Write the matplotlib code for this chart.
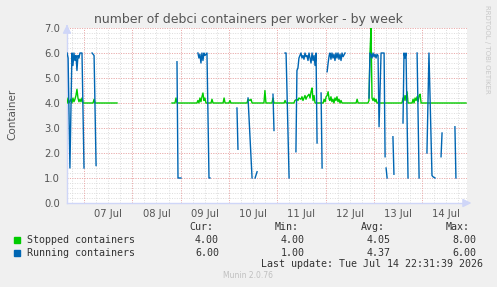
"""Munin-style week graph: debci containers per worker."""
import numpy as np
import matplotlib
matplotlib.use("Agg")
import matplotlib.pyplot as plt

# time axis: hours since 07 Jul 00:00
X_START, X_END = -8.45, 190.3
DAY_LABELS = ["07 Jul", "08 Jul", "09 Jul", "10 Jul", "11 Jul", "12 Jul", "13 Jul", "14 Jul"]

# Stopped containers (green); None = no data
stopped_t = [-8.4, -7.9, -7.5, -6.5, -6.0, -5.5, -5.0, -4.5, -4.0, -3.5, -3.0, -2.5, -2.0,
             -1.5, -1.0, -0.5, 4.5, 5.0, 5.5, 16.4, 16.9,
             43.7, 45.2, 45.7, 46.2, 56.1, 56.6, 57.1, 57.6, 58.1, 58.6, 59.1, 59.6, 60.1,
             60.6, 63.1, 63.6, 64.1, 69.1, 69.6, 70.1, 72.0, 72.5, 73.0, 81.0, 81.5, 82.5,
             83.0, 83.5, 89.4, 89.9, 90.4, 93.4, 93.9, 94.4, 99.4, 99.9, 100.4, 104.3,
             104.8, 105.8, 106.3, 106.8, 107.8, 108.3, 108.8, 109.8, 110.3, 110.8, 111.8,
             112.3, 112.8, 113.3, 113.8, 114.3, 114.8, 118.8, 119.3, 119.8, 120.3, 120.8,
             121.3, 121.8, 122.2, 122.7, 123.2, 123.7, 124.2, 124.7, 125.2, 125.7, 126.2,
             126.7, 127.2, 127.7, 128.2, 135.2, 135.7, 136.2, 141.1, 141.6, 142.1, 142.6,
             143.1, 143.6, 144.1, 144.6, 145.1, 145.6, 146.1, 158.0, 158.5, 159.0, 159.5,
             160.0, 160.5, 161.0, 163.0, 163.5, 164.0, 164.5, 165.0, 165.5, 166.0, 166.5,
             167.0, 167.5, 189.8]
stopped_v = [4.0, 4.2, 4.0, 4.15, 4.0, 4.2, 4.05, 4.15, 4.3, 4.55, 4.2, 4.05, 4.15,
             4.05, 4.2, 4.0, 4.0, 4.15, 4.0, 4.0, None,
             4.0, 4.0, 4.2, 4.0, 4.0, 4.1, 4.0, 4.2, 4.05, 4.25, 4.4, 4.1, 4.2,
             4.0, 4.0, 4.15, 4.0, 4.0, 4.2, 4.0, 4.0, 4.1, 4.0, 4.0, 4.15, 4.1,
             4.15, 4.0, 4.0, 4.5, 4.0, 4.0, 4.2, 4.0, 4.0, 4.1, 4.0, 4.0,
             4.1, 4.15, 4.1, 4.2, 4.15, 4.25, 4.1, 4.3, 4.15, 4.25, 4.35,
             4.2, 4.45, 4.6, 4.1, 4.3, 4.0, 4.0, 4.15, 4.05, 4.25, 4.3,
             4.45, 4.15, 4.1, 4.25, 4.05, 4.15, 4.0, 4.2, 4.1, 4.25, 4.05,
             4.15, 4.0, 4.1, 4.0, 4.0, 4.15, 4.0, 4.0, 4.1, 6.0, 7.0,
             4.2, 4.1, 4.2, 4.05, 4.15, 4.0, 4.0, 4.0, 4.2, 4.1, 4.3,
             4.1, 4.45, 4.0, 4.0, 4.15, 4.0, 4.2, 4.1, 4.25, 4.05, 4.3,
             4.35, 4.0, 4.0]

# Running containers (blue); None = no data
running_t = [-8.4, -7.9, -7.0, -6.0, -5.5, -5.0, -4.5, -4.0, -3.5, -3.0, -2.5, -2.0, -1.0,
             0.0, 0.5, 4.0, 5.0, 6.0, 6.5, 46.2, 46.7, 48.2, 48.7,
             56.6, 57.1, 57.6, 58.1, 58.6, 59.1, 59.6, 60.1, 61.1, 62.1, 62.6, 63.1,
             76.0, 76.5, 77.0, 81.5, 83.5, 84.0, 85.0, 86.0, 86.5, 93.9, 94.4, 94.9,
             99.9, 100.4, 101.9, 102.4,
             105.3, 105.8, 106.3, 106.8, 107.3, 107.8, 108.3, 108.8, 109.3, 109.8, 110.3,
             110.8, 111.3, 111.8, 112.3, 112.8, 113.3, 113.8, 114.3, 114.8, 115.3, 115.8,
             116.3, 117.8, 118.3, 118.8,
             120.8, 121.3, 121.8, 122.2, 122.7, 123.2, 123.7, 124.2, 124.7, 125.2, 125.7,
             126.2, 126.7, 127.2, 127.7, 128.2, 128.7, 129.7, 130.2,
             141.6, 142.1, 142.6, 143.1, 143.6, 144.1, 144.6, 145.1, 145.6, 146.1, 146.6,
             147.1, 147.6, 149.1, 149.6, 150.1, 150.1, 150.6, 151.1, 153.5, 154.0, 154.5,
             158.5, 159.0, 159.5, 160.0, 161.0, 161.5, 165.5, 166.5, 167.0,
             170.4, 171.4, 172.9, 173.4, 174.4, 174.9, 177.4, 177.9, 178.4,
             184.3, 184.8]
running_v = [6.0, 5.8, 1.4, 6.0, 5.5, 6.0, 5.7, 5.9, 5.3, 5.9, 5.8, 6.0, 6.0,
             1.4, None, 6.0, 5.9, 1.5, None, 5.65, 1.0, 1.0, None,
             6.0, 5.8, 5.95, 5.6, 6.0, 5.7, 6.0, 5.9, 6.0, 1.0, 1.0, None,
             3.8, 2.15, None, 4.2, 1.0, None, 1.0, 1.25, None, 4.35, 2.9, None,
             6.0, 6.0, 1.0, None,
             2.05, 5.3, 5.4, 5.8, 5.9, 6.0, 5.8, 5.9, 5.75, 6.0, 5.85,
             5.9, 5.7, 6.0, 5.8, 5.6, 6.0, 5.7, 5.9, 5.5, 6.0, 2.4,
             None, 4.4, 1.4, None,
             5.25, 5.6, 5.9, 6.0, 5.75, 6.0, 5.8, 5.95, 5.7, 6.0, 5.8,
             6.0, 5.75, 5.95, 5.7, 6.0, 5.85, 6.0, None,
             4.2, 6.0, 5.95, 5.8, 6.0, 5.85, 5.95, 5.8, 5.95, 5.9, 3.05,
             4.5, 6.0, 6.0, 1.85, None, 1.4, 1.0, None, 2.65, 1.15, None,
             3.2, 6.0, 5.8, 6.0, 1.0, None, 6.0, 1.0, None,
             2.0, 6.0, 1.1, 1.05, 1.0, None, 1.85, 2.8, None,
             3.05, 1.0]

LEGEND = [("Stopped containers", "#00CC00", ["4.00", "4.00", "4.05", "8.00"]),
          ("Running containers", "#0066B3", ["6.00", "1.00", "4.37", "6.00"])]
STAT_HEADERS = ["Cur:", "Min:", "Avg:", "Max:"]
LAST_UPDATE = "Last update: Tue Jul 14 22:31:39 2026"

W, H = 497, 287
BACK = "#F0F0F0"
AXIS = "#CFD6F8"
TXT = "#555555"
MONO = "DejaVu Sans Mono"


def fx(px):
    return px / W


def fy(py):
    return 1 - py / H


def _arr(values):
    return np.array([np.nan if v is None else v for v in values], dtype=float)


fig = plt.figure(figsize=(W / 100, H / 100), dpi=100, facecolor=BACK)
ax = fig.add_axes([fx(67), fy(203), 400 / W, 175 / H])
ax.set_facecolor("white")
ax.set_xlim(X_START, X_END)
ax.set_ylim(0, 7)

# grid: grey dotted minor, red dotted major
for h in np.arange(-6, X_END, 6):
    ax.axvline(h, color="#dcdcdc", lw=0.7, ls=(0, (1, 1.5)), zorder=0)
for y in np.arange(0.2, 7.01, 0.2):
    ax.axhline(y, color="#dcdcdc", lw=0.7, ls=(0, (1, 1.5)), zorder=0)
for h in np.arange(0, X_END, 24):
    ax.axvline(h, color="#f0a8a8", lw=0.7, ls=(0, (1, 1.5)), zorder=1)
for y in range(1, 8):
    ax.axhline(y, color="#f0a8a8", lw=0.7, ls=(0, (1, 1.5)), zorder=1)

ax.plot(stopped_t, _arr(stopped_v), color="#00CC00", lw=1.0, zorder=3)
ax.plot(running_t, _arr(running_v), color="#0066B3", lw=1.0, zorder=4)

ax.set_xticks(np.arange(12, 12 + 24 * len(DAY_LABELS), 24))
ax.set_xticklabels(DAY_LABELS)
ax.set_yticks(np.arange(0, 8))
ax.set_yticklabels([f"{v:.1f}" for v in range(8)])
ax.tick_params(length=0, labelsize=7.2, colors=TXT, pad=5)
ax.tick_params(axis="x", pad=4)
for s in ("top", "right"):
    ax.spines[s].set_visible(False)
for s in ("left", "bottom"):
    ax.spines[s].set_color(AXIS)
    ax.spines[s].set_linewidth(1)

# axis arrows
ax.annotate("", xy=(0, 1.035), xytext=(0, 0.99), xycoords="axes fraction",
            arrowprops=dict(arrowstyle="-|>,head_width=0.25,head_length=0.5",
                            color=AXIS, lw=1))
ax.annotate("", xy=(1.018, 0), xytext=(0.99, 0), xycoords="axes fraction",
            arrowprops=dict(arrowstyle="-|>,head_width=0.25,head_length=0.5",
                            color=AXIS, lw=1))

fig.text(fx(248), fy(19), "number of debci containers per worker - by week",
         ha="center", va="center", fontsize=9, color=TXT)
fig.text(fx(12), fy(114), "Container", rotation=90, ha="center", va="center",
         fontsize=7.5, color=TXT)
fig.text(fx(487), fy(5), "RRDTOOL / TOBI OETIKER", rotation=270, ha="center",
         va="top", fontsize=5, color="#c8c8c8")

# legend block
stat_x = [213, 299, 385, 470]
for x, hdr in zip(stat_x, STAT_HEADERS):
    fig.text(fx(x), fy(227), hdr, ha="right", va="center", family=MONO,
             fontsize=7.2, color="#333333")
for row, (name, color, stats) in enumerate(LEGEND):
    y = 240 + row * 12.5
    fig.patches.append(plt.Rectangle((fx(14), fy(y + 3)), 6 / W, 6 / H,
                                     transform=fig.transFigure, color=color))
    fig.text(fx(27), fy(y), name, ha="left", va="center", family=MONO,
             fontsize=7.2, color="#333333")
    for x, val in zip(stat_x, stats):
        fig.text(fx(x + 6), fy(y), val, ha="right", va="center", family=MONO,
                 fontsize=7.2, color="#333333")
fig.text(fx(483), fy(264), LAST_UPDATE, ha="right", va="center", family=MONO,
         fontsize=7.2, color="#333333")
fig.text(fx(248), fy(276), "Munin 2.0.76", ha="center", va="center",
         fontsize=5.5, color="#c0c0c0")

fig.savefig("out.png", dpi=100, facecolor=BACK)
